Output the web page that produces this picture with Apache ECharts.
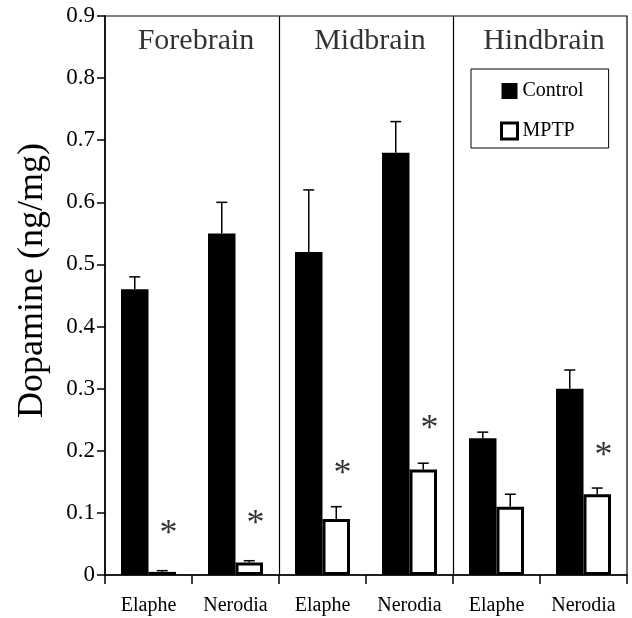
<!DOCTYPE html>
<html>
<head>
<meta charset="utf-8">
<script src="https://cdn.jsdelivr.net/npm/echarts@6/dist/echarts.min.js"></script>
<style>
html,body{margin:0;padding:0;background:#fff;}
#chart{width:632px;height:618px;}
</style>
</head>
<body>
<div id="chart"></div>
<script>
// ---- data ----
const categories = ['Elaphe', 'Nerodia', 'Elaphe', 'Nerodia', 'Elaphe', 'Nerodia'];
const panelNames = ['Forebrain', 'Midbrain', 'Hindbrain'];
const controlMean = [0.46, 0.55, 0.52, 0.68, 0.22, 0.30];
const controlErrTop = [0.48, 0.60, 0.62, 0.73, 0.23, 0.33];
const mptpMean = [0.005, 0.02, 0.09, 0.17, 0.11, 0.13];
const mptpErrTop = [0.007, 0.023, 0.11, 0.18, 0.13, 0.14];
const starY = [0.079, 0.095, 0.176, 0.248, null, 0.206];
const yTicks = [0, 0.1, 0.2, 0.3, 0.4, 0.5, 0.6, 0.7, 0.8, 0.9];
const panelDividers = [2, 4];

const FONT = "'Liberation Serif', 'Times New Roman', serif";
const BAR_W = 27.5;

const chart = echarts.init(document.getElementById('chart'), null, {renderer: 'canvas'});

function errSeries(name, means, tops, dx) {
  return {
    type: 'custom',
    name: name,
    xAxisIndex: 0,
    silent: true,
    z: 1,
    data: means.map((m, i) => [i, m, tops[i]]),
    renderItem: function (params, api) {
      const x = api.coord([api.value(0), 0])[0] + dx;
      const yb = api.coord([api.value(0), api.value(1)])[1];
      const yt = api.coord([api.value(0), api.value(2)])[1];
      const st = {stroke: '#000', lineWidth: 1.5};
      return {
        type: 'group',
        children: [
          {type: 'line', shape: {x1: x, y1: yb, x2: x, y2: yt}, style: st},
          {type: 'line', shape: {x1: x - 5.5, y1: yt, x2: x + 5.5, y2: yt}, style: st}
        ]
      };
    }
  };
}

const option = {
  backgroundColor: '#fff',
  animation: false,
  textStyle: {fontFamily: FONT, color: '#000'},
  grid: {
    left: 105, right: 5, top: 16, bottom: 43,
    show: true, borderColor: '#000', borderWidth: 1.2, containLabel: false
  },
  legend: {
    left: 471, top: 69,
    orient: 'vertical',
    itemWidth: 16, itemHeight: 16, itemGap: 20,
    padding: [12, 25, 7, 29],
    borderColor: '#000', borderWidth: 1,
    textStyle: {fontFamily: FONT, fontSize: 20, color: '#000'},
    data: [
      {name: 'Control', icon: 'rect', itemStyle: {color: '#000', borderWidth: 0}},
      {name: 'MPTP', icon: 'rect', itemStyle: {color: '#fff', borderColor: '#000', borderWidth: 3}}
    ]
  },
  xAxis: [
    {
      type: 'category',
      data: categories,
      boundaryGap: true,
      axisLine: {lineStyle: {color: '#000', width: 1.5}},
      axisTick: {show: true, interval: 0, length: 9, lineStyle: {color: '#000', width: 1.5}},
      axisLabel: {interval: 0, fontFamily: FONT, fontSize: 20, color: '#000', margin: 21}
    },
    {
      type: 'value', min: 0, max: 6, show: false
    }
  ],
  yAxis: {
    type: 'value',
    min: 0, max: 0.9, interval: 0.1,
    name: 'Dopamine (ng/mg)',
    nameLocation: 'middle',
    nameGap: 54,
    nameTextStyle: {fontFamily: FONT, fontSize: 36, color: '#000', padding: [0, 0, 0, 30]},
    splitLine: {show: false},
    axisLine: {show: true, lineStyle: {color: '#000', width: 1.5}},
    axisTick: {show: true, length: 8, lineStyle: {color: '#000', width: 1.5}},
    axisLabel: {
      fontFamily: FONT, fontSize: 23, color: '#000', margin: 10,
      formatter: function (v) {
        const t = yTicks.find(k => Math.abs(k - v) < 1e-9);
        if (t === undefined) return '';
        return t === 0 ? '0' : t.toFixed(1);
      }
    }
  },
  series: [
    {
      name: 'Control', type: 'bar', xAxisIndex: 0,
      data: controlMean, barWidth: BAR_W, barGap: '0%',
      itemStyle: {color: '#000'}, z: 2
    },
    {
      name: 'MPTP', type: 'bar', xAxisIndex: 0,
      data: mptpMean, barWidth: BAR_W, barGap: '0%',
      itemStyle: {color: '#fff', borderColor: '#000', borderWidth: 3}, z: 2
    },
    errSeries('ControlErr', controlMean, controlErrTop, -BAR_W / 2),
    errSeries('MPTPErr', mptpMean, mptpErrTop, BAR_W / 2),
    {
      name: 'stars', type: 'scatter', xAxisIndex: 0,
      symbolSize: 1, itemStyle: {color: 'rgba(0,0,0,0)'},
      silent: true,
      data: starY.map((v, i) => v === null ? null : [i, v]),
      label: {
        show: true, position: 'inside', formatter: '*',
        fontFamily: FONT, fontSize: 36, color: '#000', offset: [20, 9]
      }
    },
    {
      name: 'panels', type: 'scatter', xAxisIndex: 1,
      symbolSize: 1, itemStyle: {color: 'rgba(0,0,0,0)'},
      silent: true,
      data: panelNames.map((n, i) => ({name: n, value: [2 * i + 1, 0.86]})),
      label: {
        show: true, position: 'inside', formatter: '{b}',
        fontFamily: FONT, fontSize: 30, color: '#000', offset: [4, 0]
      },
      markLine: {
        silent: true, symbol: 'none',
        label: {show: false},
        lineStyle: {color: '#000', type: 'solid', width: 1.2},
        data: panelDividers.map(d => ({xAxis: d}))
      }
    }
  ]
};
chart.setOption(option);
</script>
</body>
</html>
